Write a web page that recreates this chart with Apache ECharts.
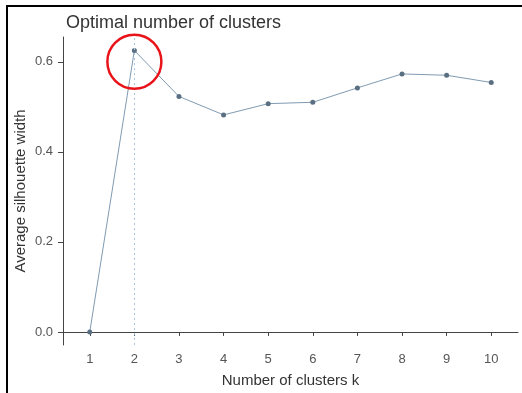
<!DOCTYPE html>
<html>
<head>
<meta charset="utf-8">
<script src="https://cdn.jsdelivr.net/npm/echarts@6/dist/echarts.min.js"></script>
<style>
  html, body { margin: 0; padding: 0; background: #fff; overflow: hidden; width: 522px; height: 393px; }
  #chart { position: absolute; left: 0; top: 0; width: 522px; height: 393px; }
  .edge { position: absolute; background: #000; z-index: 5; }
  #edgeTop { left: 6px; top: 5px; width: 516px; height: 2px; }
  #edgeLeft { left: 6px; top: 5px; height: 388px; width: 2px; }
</style>
</head>
<body>
<div id="chart"></div>
<div class="edge" id="edgeTop"></div>
<div class="edge" id="edgeLeft"></div>
<script>
// Number of clusters k and the average silhouette width for each
const clusterCounts = [1, 2, 3, 4, 5, 6, 7, 8, 9, 10];
const silhouetteWidths = [0.0, 0.625, 0.523, 0.482, 0.507, 0.510, 0.542, 0.573, 0.570, 0.554];
const yTickValues = [0, 0.2, 0.4, 0.6];
const optimalK = 2;
const highlightY = 0.6;

const font = '"Liberation Sans", Arial, sans-serif';
const chart = echarts.init(document.getElementById('chart'), null, { renderer: 'canvas' });

chart.setOption({
  animation: false,
  backgroundColor: '#fff',
  title: {
    text: 'Optimal number of clusters',
    left: 61,
    top: 9,
    textStyle: { fontFamily: font, fontSize: 18, fontWeight: 'normal', color: '#333' }
  },
  grid: { left: 63, right: 4, top: 37, bottom: 46 },
  xAxis: {
    type: 'value',
    min: 0.4,
    max: 10.6,
    name: 'Number of clusters k',
    nameLocation: 'middle',
    nameGap: 28,
    nameMoveOverlap: false,
    nameTextStyle: { fontFamily: font, fontSize: 15, color: '#333' },
    axisLine: { show: true, lineStyle: { color: '#444', width: 1 } },
    axisTick: { show: true, length: 4, lineStyle: { color: '#444' }, customValues: clusterCounts },
    axisLabel: { fontFamily: font, fontSize: 13, color: '#555', margin: 8, customValues: clusterCounts },
    splitLine: { show: false }
  },
  yAxis: {
    type: 'value',
    min: -0.029,
    max: 0.655,
    name: 'Average silhouette width',
    nameLocation: 'middle',
    nameGap: 35,
    nameMoveOverlap: false,
    nameTextStyle: { fontFamily: font, fontSize: 15, color: '#333' },
    axisLine: { show: true, lineStyle: { color: '#444', width: 1 } },
    axisTick: { show: true, length: 5, lineStyle: { color: '#444' }, customValues: yTickValues },
    axisLabel: {
      fontFamily: font, fontSize: 13, color: '#555', margin: 10,
      customValues: yTickValues,
      formatter: v => v.toFixed(1)
    },
    splitLine: { show: false }
  },
  series: [{
    type: 'line',
    data: clusterCounts.map((k, i) => [k, silhouetteWidths[i]]),
    lineStyle: { color: '#7f9bb3', width: 1 },
    itemStyle: { color: '#5b6f82' },
    symbol: 'circle',
    symbolSize: 5,
    showSymbol: true,
    markLine: {
      silent: true,
      symbol: 'none',
      label: { show: false },
      lineStyle: { color: '#a9c6e0', type: [2, 3], width: 1 },
      data: [{ xAxis: optimalK }]
    },
    markPoint: {
      silent: true,
      symbol: 'circle',
      symbolSize: 54,
      label: { show: false },
      itemStyle: { color: 'rgba(0,0,0,0)', borderColor: '#e8141a', borderWidth: 2.5 },
      data: [{ coord: [optimalK, highlightY] }]
    }
  }]
});
</script>
</body>
</html>
